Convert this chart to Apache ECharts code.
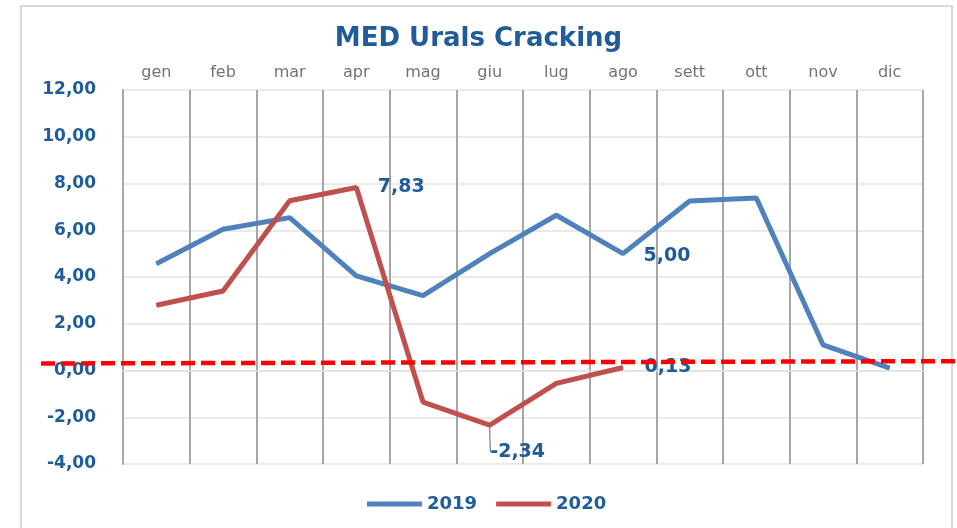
<!DOCTYPE html>
<html>
<head>
<meta charset="utf-8">
<script src="https://cdn.jsdelivr.net/npm/echarts@6/dist/echarts.min.js"></script>
<style>
  html, body { margin: 0; padding: 0; background: #fff; }
  #chart { width: 957px; height: 528px; }
</style>
</head>
<body>
<div id="chart"></div>
<script>
var months = ['gen', 'feb', 'mar', 'apr', 'mag', 'giu', 'lug', 'ago', 'sett', 'ott', 'nov', 'dic']
var data2019 = [4.57, 6.04, 6.54, 4.05, 3.2, 5.0, 6.64, 5.0, 7.25, 7.38, 1.1, 0.1]
var data2020 = [2.79, 3.4, 7.26, 7.83, -1.35, -2.34, -0.55, 0.13]
// indices of points that carry a value label
var labels2019 = [7]
var labels2020 = [3, 5, 7]
// dashed reference line (second grid, x runs 0..1 across the full width)
var refX = [0, 1]
var refY = [0.3, 0.4]

var blue = '#1f5c99'
var font = 'DejaVu Sans'
var fmt = function(v) { return v.toFixed(2).replace('.', ',') }

function buildData(values, labelIdx) {
  return values.map(function(v, i) {
    if (labelIdx.indexOf(i) < 0) return v
    return { value: v, label: { show: true } }
  })
}

var chart = echarts.init(document.getElementById('chart'), null, { renderer: 'canvas' })

var d2020 = buildData(data2020, labels2020)
// the -2,34 label sits below, with a leader line
d2020[5].label = { show: true, position: 'bottom', distance: 17 }
d2020[5].labelLine = { show: true, lineStyle: { color: '#666', width: 1 } }
d2020[7].label = { show: true, offset: [0, 5] }

var option = {
  animation: false,
  backgroundColor: '#fff',
  textStyle: { fontFamily: font },
  title: {
    text: 'MED Urals Cracking',
    left: 'center',
    top: 21,
    textStyle: { color: blue, fontSize: 26, fontWeight: 'bold', fontFamily: font }
  },
  graphic: [{
    type: 'rect',
    shape: { x: 21, y: 6, width: 931, height: 540 },
    style: { fill: 'none', stroke: '#d9d9d9', lineWidth: 2 },
    silent: true
  }],
  legend: {
    data: ['2019', '2020'],
    bottom: 10,
    left: 362,
    itemWidth: 55,
    itemHeight: 5,
    itemGap: 19,
    icon: 'rect',
    textStyle: { color: blue, fontSize: 18, fontWeight: 'bold', fontFamily: font }
  },
  grid: [
    { left: 123, right: 34, top: 90, bottom: 64 },
    { left: 41, right: 2, top: 90, bottom: 64 }
  ],
  xAxis: [
    {
      type: 'category',
      gridIndex: 0,
      position: 'top',
      data: months,
      axisTick: { show: false },
      axisLine: { show: true, lineStyle: { color: '#e3e3e3', width: 1.5 } },
      axisLabel: { color: '#737373', fontSize: 16, margin: 9, fontFamily: font },
      splitLine: { show: true, lineStyle: { color: '#a6a6a6', width: 2 } }
    },
    {
      type: 'value',
      gridIndex: 1,
      min: 0,
      max: 1,
      show: false
    }
  ],
  yAxis: [
    {
      type: 'value',
      gridIndex: 0,
      min: -4,
      max: 12,
      interval: 2,
      axisLine: { show: true, lineStyle: { color: '#a6a6a6', width: 2 } },
      axisTick: { show: false },
      axisLabel: {
        color: blue,
        fontSize: 17,
        fontWeight: 'bold',
        margin: 27,
        fontFamily: font,
        formatter: fmt
      },
      splitLine: { show: true, lineStyle: { color: '#e3e3e3', width: 1.5 } }
    },
    {
      type: 'value',
      gridIndex: 1,
      min: -4,
      max: 12,
      show: false
    }
  ],
  series: [
    {
      name: '2019',
      type: 'line',
      data: buildData(data2019, labels2019),
      symbol: 'circle',
      symbolSize: 1,
      color: '#4f81bd',
      lineStyle: { width: 5, color: '#4f81bd' },
      label: {
        position: 'right',
        distance: 20,
        offset: [0, 2],
        color: blue,
        fontSize: 19,
        fontWeight: 'bold',
        fontFamily: font,
        formatter: function(p) { return fmt(p.value) }
      },
      z: 3
    },
    {
      name: '2020',
      type: 'line',
      data: d2020,
      symbol: 'circle',
      symbolSize: 1,
      color: '#c0504d',
      lineStyle: { width: 5, color: '#c0504d' },
      label: {
        position: 'right',
        distance: 21,
        color: blue,
        fontSize: 19,
        fontWeight: 'bold',
        fontFamily: font,
        formatter: function(p) { return fmt(p.value) }
      },
      labelLayout: function(params) {
        if (params.dataIndex === 5) return { dx: 28 }
        return {}
      },
      z: 4
    },
    {
      name: 'ref',
      type: 'line',
      xAxisIndex: 1,
      yAxisIndex: 1,
      data: refX.map(function(x, i) { return [x, refY[i]] }),
      symbol: 'none',
      lineStyle: { width: 4.5, color: '#ff0000', type: [14, 6] },
      z: 5
    }
  ]
}

option && chart.setOption(option)
</script>
</body>
</html>
